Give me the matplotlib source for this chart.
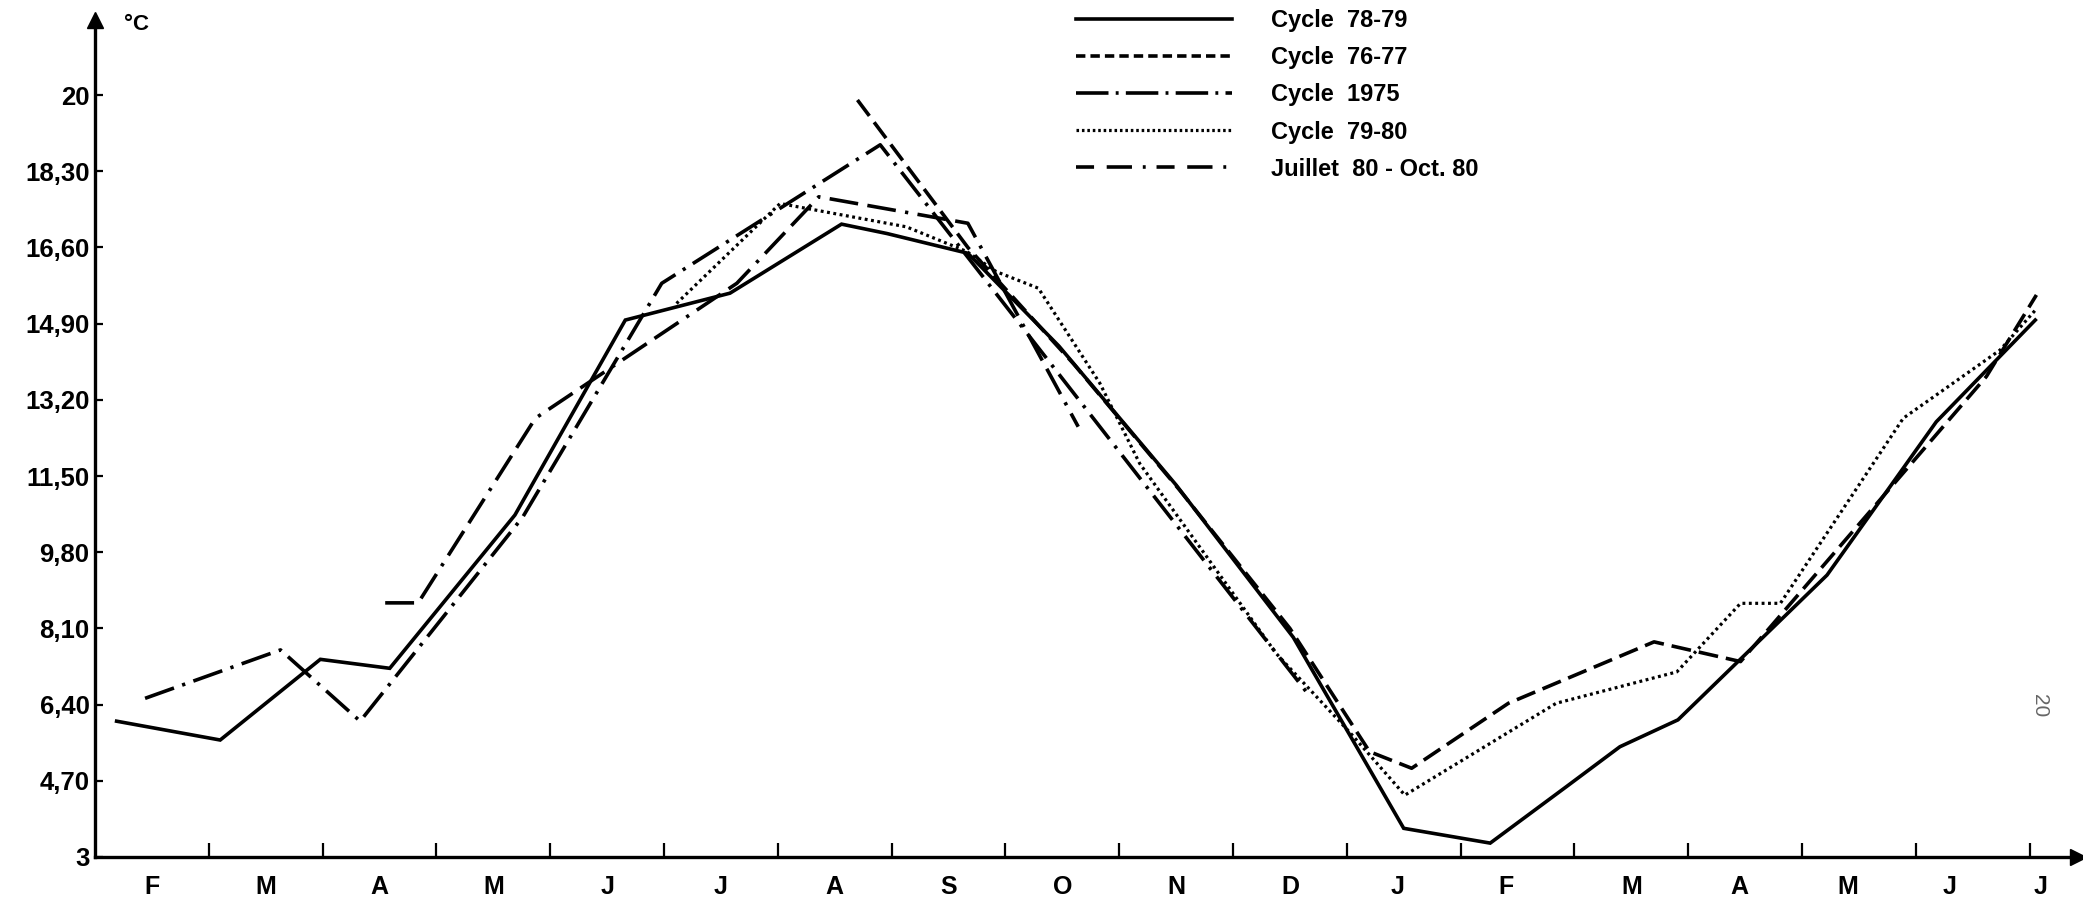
import matplotlib
matplotlib.use('Agg')
import matplotlib.pyplot as plt
from matplotlib.lines import Line2D

plt.rcParams['font.family'] = ['Liberation Sans', 'DejaVu Sans']

# x in months from the start of February (1 unit = 1 month)
months = ['F', 'M', 'A', 'M', 'J', 'J', 'A', 'S', 'O', 'N', 'D', 'J', 'F', 'M', 'A', 'M', 'J', 'J']
month_pos = [0.5, 1.5, 2.5, 3.5, 4.5, 5.5, 6.5, 7.5, 8.5, 9.5, 10.5, 11.45,
             12.4, 13.5, 14.45, 15.4, 16.3, 17.1]
month_ticks = list(range(1, 18))

temp_ticks = [3, 4.7, 6.4, 8.1, 9.8, 11.5, 13.2, 14.9, 16.6, 18.3, 20]
temp_labels = ['3', '4,70', '6,40', '8,10', '9,80', '11,50', '13,20', '14,90', '16,60', '18,30', '20']

# Cycle 78-79
x_7879 = [0.19, 1.10, 1.98, 2.59, 3.69, 4.66, 5.58, 6.56, 6.96, 7.67, 8.47, 9.50, 10.53,
          11.50, 12.26, 12.93, 13.40, 13.91, 15.22, 16.18, 17.05]
t_7879 = [6.03, 5.61, 7.41, 7.21, 10.63, 14.98, 15.58, 17.12, 16.91, 16.47, 14.40, 11.30, 7.90,
          3.64, 3.31, 4.57, 5.46, 6.06, 9.29, 12.71, 14.98]

# Cycle 76-77
x_7677 = [6.70, 7.67, 8.60, 9.53, 10.50, 11.20, 11.57, 12.42, 13.70, 14.46, 16.62, 17.06]
t_7677 = [19.89, 16.60, 14.00, 11.19, 8.10, 5.35, 4.98, 6.43, 7.80, 7.36, 13.72, 15.54]

# Cycle 1975
x_1975 = [0.44, 1.63, 2.33, 3.76, 4.98, 6.90, 10.68]
t_1975 = [6.54, 7.62, 6.03, 10.59, 15.80, 18.89, 6.57]

# Cycle 79-80
x_7980 = [5.11, 6.02, 7.13, 7.66, 7.92, 8.29, 8.83, 9.18, 10.38, 11.03, 11.51, 12.84, 13.90,
          14.46, 14.81, 15.89, 16.74, 17.05]
t_7980 = [15.35, 17.58, 17.06, 16.51, 16.06, 15.69, 13.57, 11.78, 7.54, 5.77, 4.38, 6.43, 7.13,
          8.66, 8.66, 12.79, 14.31, 15.20]

# Juillet 80 - Oct. 80
x_jo80 = [2.55, 2.84, 3.87, 5.64, 6.36, 7.67, 8.64]
t_jo80 = [8.67, 8.67, 12.79, 15.80, 17.73, 17.14, 12.60]

W, H = 2083, 906
fig = plt.figure(figsize=(W / 100, H / 100), dpi=100)
x0, x1, y0, y1 = 95, 2078, 857, 20
ax = fig.add_axes([x0 / W, (H - y0) / H, (x1 - x0) / W, (y0 - y1) / H])
ax.set_xlim(0, (x1 - x0) / 113.8)
ax.set_ylim(3, 3 + (y0 - y1) / 44.82)

lw = 2.6
styles = [
    dict(ls='-', lw=lw),
    dict(ls=(0, (5.5, 2.2)), lw=lw),
    dict(ls=(0, (8.5, 2.4, 0.9, 2.4)), lw=lw),
    dict(ls=(0, (0.9, 1.1)), lw=2.3),
    dict(ls=(0, (8.0, 2.6, 8.0, 2.6, 0.9, 2.6)), lw=lw),
]
# the key samples use a tighter rhythm than the curves
key_styles = [
    dict(ls='-', lw=lw),
    dict(ls=(0, (2.6, 1.4)), lw=lw),
    dict(ls=(0, (9.0, 2.0, 0.8, 2.0)), lw=lw),
    dict(ls=(0, (0.8, 0.9)), lw=2.3),
    dict(ls=(0, (5.0, 3.5, 7.0, 3.0, 0.8, 3.0)), lw=lw),
]
series = [(x_7879, t_7879), (x_7677, t_7677), (x_1975, t_1975), (x_7980, t_7980), (x_jo80, t_jo80)]
names = ['Cycle  78-79', 'Cycle  76-77', 'Cycle  1975', 'Cycle  79-80', 'Juillet  80 - Oct. 80']

for (xs, ts), st in zip(series, styles):
    ax.plot(xs, ts, color='black', solid_joinstyle='miter', **st)

for s in ['top', 'right']:
    ax.spines[s].set_visible(False)
for s in ['left', 'bottom']:
    ax.spines[s].set_linewidth(2.4)
ax.plot(1, 0, '>k', ms=11, transform=ax.transAxes, clip_on=False)
ax.plot(0, 1, '^k', ms=11, transform=ax.transAxes, clip_on=False)

ax.set_yticks(temp_ticks)
ax.set_yticklabels(temp_labels, fontsize=18.5, fontweight='bold')
ax.tick_params(axis='y', direction='in', length=6, width=1.6, pad=4)

ax.set_xticks(month_ticks)
ax.set_xticklabels([])
ax.set_xticks(month_pos, minor=True)
ax.set_xticklabels(months, minor=True, fontsize=18, fontweight='bold')
ax.tick_params(axis='x', which='major', direction='in', length=10, width=1.6)
ax.tick_params(axis='x', which='minor', length=0, pad=13)

fig.text(124 / W, 1 - 24 / H, '°C', fontsize=16, fontweight='bold', va='center')
fig.text(2040 / W, 1 - 706 / H, '20', rotation=-90, fontsize=15, color='#666666',
         ha='center', va='center')

handles = [Line2D([], [], color='black', **st) for st in key_styles]
ax.legend(handles, names, loc='upper left', bbox_to_anchor=(1076 / W, 1 - 9 / H),
          bbox_transform=fig.transFigure, frameon=False, handlelength=6.6,
          handletextpad=1.65, labelspacing=0.6, borderpad=0, borderaxespad=0,
          prop=dict(size=17, weight='bold'))

fig.savefig('out.png', dpi=100, facecolor='white')
